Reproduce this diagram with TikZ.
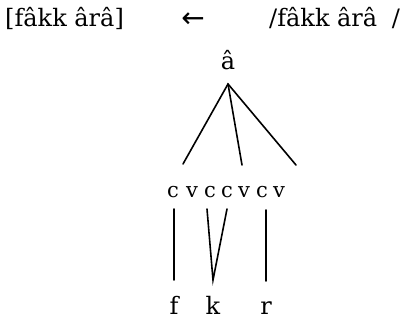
\documentclass[tikz,border=0pt]{standalone}
\usepackage{fontspec}
\setmainfont{DejaVu Serif}
\newfontfamily\arrowfont{DejaVu Sans}
\begin{document}
\begin{tikzpicture}[x=1pt,y=-1pt,
  txt/.style={inner sep=0pt,anchor=base,font=\fontsize{24}{28}\selectfont},
  skel/.style={txt,font=\fontsize{21}{25}\selectfont},
  seg/.style={line width=1.6pt,line cap=round}]
\useasboundingbox (0,0) rectangle (402,330);

% surface form, rule arrow, underlying form
\node[txt,anchor=base west] (surf) at (5,26) {[fâkk ârâ]};
\node[txt,font=\fontsize{28}{32}\arrowfont] (arr) at (193,27) {←};
\node[txt,anchor=base west] (under) at (269,26) {/fâkk ârâ};
\node[txt] (slash) at (396,26) {/};

% melody vowel and its spreading lines
\node[txt] (vow) at (228,69) {â};
\coordinate (apex) at (228,84);
\coordinate (e1) at (183,164);
\coordinate (e2) at (242,165);
\coordinate (e3) at (296,165);
\draw[seg] (e1) -- (apex) -- (e3);
\draw[seg] (apex) -- (e2);

% CV skeleton
\foreach \l/\x [count=\i] in {c/173,v/192,c/210,c/227,v/244,c/262,v/279}
  \node[skel] (s\i) at (\x,197) {\l};

% consonantal melody
\node[txt] (f) at (174,314) {f};
\node[txt] (k) at (213,314) {k};
\node[txt] (r) at (266,314) {r};

\coordinate (fa) at (174,209);
\coordinate (fb) at (174,280);
\coordinate (ka) at (207,209);
\coordinate (kb) at (227,209);
\coordinate (kc) at (213,280);
\coordinate (ra) at (266,210);
\coordinate (rb) at (266,281);
\draw[seg] (fa) -- (fb);
\draw[seg] (ka) -- (kc) -- (kb);
\draw[seg] (ra) -- (rb);
\end{tikzpicture}
\end{document}
